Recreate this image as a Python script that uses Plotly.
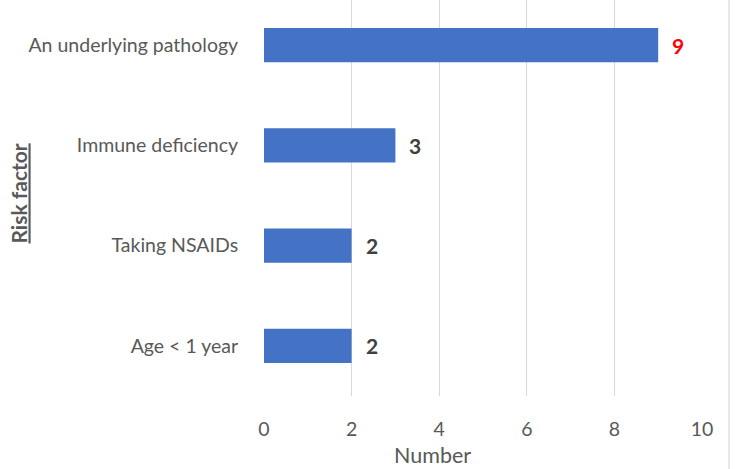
import plotly.graph_objects as go

categories = ["Age < 1 year", "Taking NSAIDs", "Immune deficiency", "An underlying pathology"]
values = [2, 2, 3, 9]
label_colors = ["#404040", "#404040", "#404040", "#FF0000"]
x_ticks = [0, 2, 4, 6, 8, 10]

FONT = "Lato"
GRAY = "#595959"

fig = go.Figure()
fig.add_trace(go.Bar(
    x=values, y=categories, orientation="h",
    marker=dict(color="#4472C4", line=dict(width=0)),
    width=0.34, hoverinfo="skip",
))

annotations = []
for c, v, col in zip(categories, values, label_colors):
    annotations.append(dict(
        x=v, y=c, xref="x", yref="y", text=f"<b>{v}</b>", showarrow=False,
        xanchor="left", yanchor="middle", xshift=12,
        font=dict(family=FONT, size=21, color=col),
    ))
annotations.append(dict(
    x=(432 - 264) / 438, y=-(455 - 396) / 396, xref="paper", yref="paper",
    text="Number", showarrow=False, xanchor="center", yanchor="middle",
    font=dict(family=FONT, size=21.5, color=GRAY),
))
annotations.append(dict(
    x=(17.5 - 264) / 438, y=(396 - 194) / 396, xref="paper", yref="paper",
    text="<b><u>Risk factor</u></b>", showarrow=False, textangle=-90,
    xanchor="center", yanchor="middle",
    font=dict(family=FONT, size=21, color=GRAY),
))

fig.update_layout(
    width=750, height=469,
    margin=dict(l=264, r=48, t=0, b=73),
    plot_bgcolor="white", paper_bgcolor="white",
    showlegend=False,
    annotations=annotations,
    shapes=[dict(type="line", xref="paper", yref="paper", layer="above",
                 x0=(729 - 264) / 438, x1=(729 - 264) / 438, y0=-73 / 396, y1=1.0,
                 line=dict(color="#D0D0D0", width=1))],
    xaxis=dict(
        range=[0, 10], tickvals=x_ticks, showgrid=True, gridcolor="#D9D9D9", gridwidth=1,
        zeroline=False, showline=False, ticks="outside", ticklen=16, tickcolor="white",
        tickfont=dict(family=FONT, size=19.5, color=GRAY),
    ),
    yaxis=dict(
        range=[-0.5, 3.45], showgrid=False, zeroline=False, showline=False,
        ticks="outside", ticklen=21, tickcolor="white",
        tickfont=dict(family=FONT, size=19.5, color=GRAY),
    ),
)

fig.write_html("out.html", config={"displayModeBar": False},
               post_script="document.body.style.margin='0';")
